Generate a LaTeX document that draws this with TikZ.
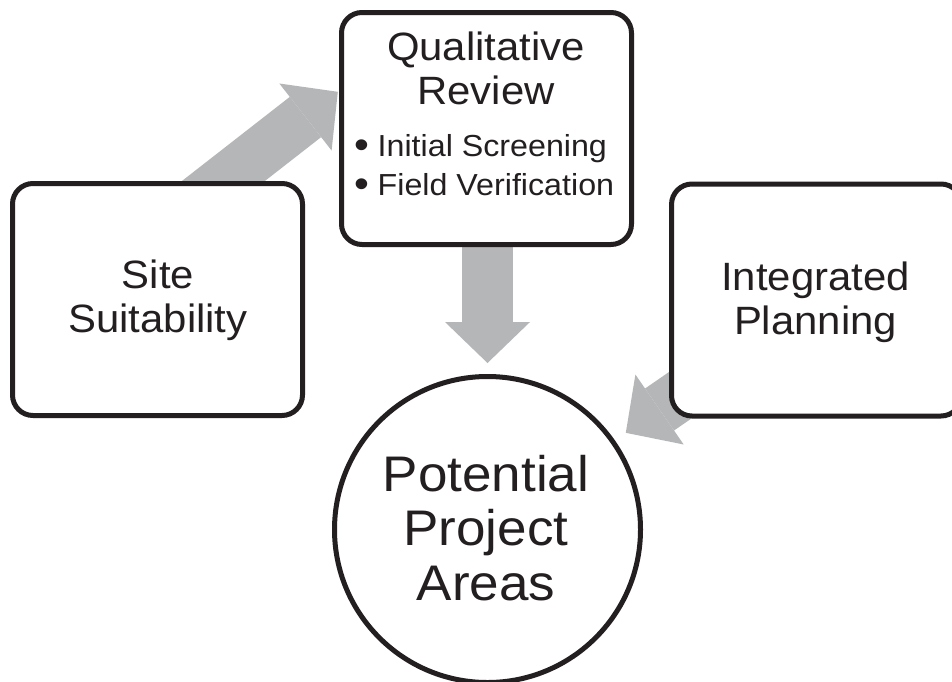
\documentclass[tikz,border=0pt]{standalone}
\usepackage{fontspec}
\setmainfont{Liberation Sans}[FakeStretch=1.06]
\usetikzlibrary{arrows.meta,backgrounds}
\definecolor{inkline}{HTML}{231F20}
\definecolor{arrowgray}{HTML}{B5B6B8}
\begin{document}
\begin{tikzpicture}[x=1pt,y=-1pt,
  box/.style={draw=inkline, line width=5pt, rounded corners=20.5pt, fill=white,
    minimum width=290pt, minimum height=232pt, inner sep=0pt},
  roundnode/.style={circle, draw=inkline, line width=5pt, fill=white,
    minimum size=306pt, inner sep=0pt},
  bigarrow/.style={draw=arrowgray, line width=51pt,
    -{Triangle[width=85pt,length=41pt,line width=0pt]}},
  title/.style={font=\fontsize{39.5}{44.4}\selectfont, inner sep=0pt, anchor=base, text=inkline},
  bigtitle/.style={font=\fontsize{50}{54}\selectfont, inner sep=0pt, anchor=base, text=inkline},
  bullettext/.style={font=\fontsize{30.4}{38.5}\selectfont, inner sep=0pt, anchor=base west, text=inkline},
  bulletdot/.style={font=\fontsize{40}{40}\selectfont, inner sep=0pt, anchor=base,
    text height=18pt, text depth=0pt, text=inkline}
]
\useasboundingbox (0,0) rectangle (952,681);

% shapes
\node[box] (site) at (157.5,299.5) {};
\node[box] (qual) at (486.5,128.5) {};
\node[box] (integ) at (816.5,300) {};
\node[roundnode] (areas) at (487.5,529.5) {};

% texts
\node[title] (siteA) at (158,288.3) {Site};
\node[title] (siteB) at (158,332.7) {Suitability};
\node[title] (qualA) at (486,60) {Qualitative};
\node[title] (qualB) at (486,104.4) {Review};
\node[bulletdot] (dotA) at (361.7,158.8) {•};
\node[bullettext] (itemA) at (377.5,156.5) {Initial Screening};
\node[bulletdot] (dotB) at (361.7,197.3) {•};
\node[bullettext] (itemB) at (377.5,195) {Field Verification};
\node[title] (integA) at (815.5,290.5) {Integrated};
\node[title] (integB) at (815.5,334) {Planning};
\node[bigtitle] (areasA) at (486,491.7) {Potential};
\node[bigtitle] (areasB) at (486,545.5) {Project};
\node[bigtitle] (areasC) at (486,600) {Areas};

% arrows behind the shapes
\begin{scope}[on background layer]
  \fill[white] (0,0) rectangle (952,681);
  \coordinate (a1s) at (147.7,240);
  \coordinate (a1t) at (337.8,91.8);
  \coordinate (a2s) at (487.5,200);
  \coordinate (a2t) at (487.5,363);
  \coordinate (a3s) at (783,324.3);
  \coordinate (a3t) at (625.8,432.8);
  \draw[bigarrow] (a1s) -- (a1t);
  \draw[bigarrow] (a2s) -- (a2t);
  \draw[bigarrow] (a3s) -- (a3t);
\end{scope}
\end{tikzpicture}
\end{document}
